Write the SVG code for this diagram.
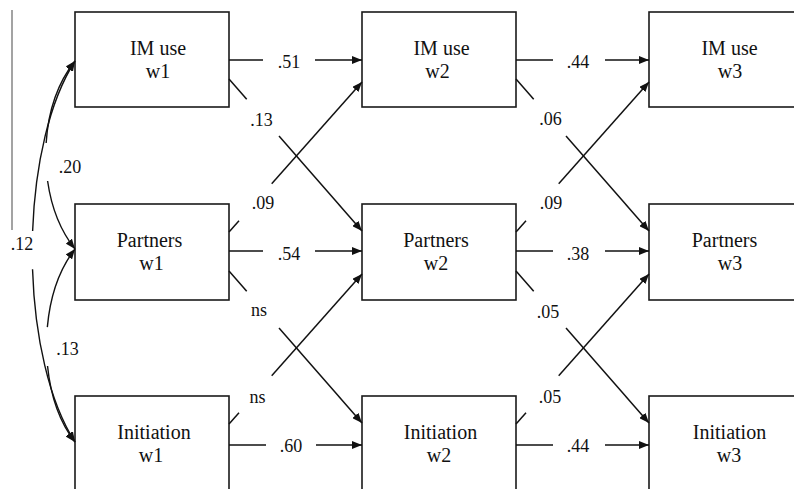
<svg xmlns="http://www.w3.org/2000/svg" width="794" height="489" viewBox="0 0 794 489">
<style>
.box{fill:#fff;stroke:#1a1a1a;stroke-width:1.6}
.t{font-family:"Liberation Serif","Times New Roman",serif;font-size:20px;fill:#111;text-anchor:middle}
.l{font-family:"Liberation Serif","Times New Roman",serif;font-size:18px;fill:#111;text-anchor:middle}
.c{fill:none;stroke:#111;stroke-width:1.5}
.a{marker-end:url(#ah)}
.cov{fill:none;stroke:#111;stroke-width:1.4;marker-start:url(#ahs);marker-end:url(#ah)}
</style>
<defs>
<marker id="ah" viewBox="0 0 10 8" refX="10" refY="4" markerWidth="10" markerHeight="8" markerUnits="userSpaceOnUse" orient="auto"><path d="M0,0 L10,4 L0,8 z" fill="#111"/></marker>
<marker id="ahs" viewBox="0 0 10 8" refX="10" refY="4" markerWidth="10" markerHeight="8" markerUnits="userSpaceOnUse" orient="auto-start-reverse"><path d="M0,0 L10,4 L0,8 z" fill="#111"/></marker>
</defs>
<rect width="794" height="489" fill="#fff"/>
<line x1="12" y1="10" x2="12" y2="230" stroke="#666" stroke-width="1.2"/>

<g id="im1"><rect class="box" x="75" y="12" width="154" height="95"/><text class="t" x="158" y="54.5">IM use</text><text class="t" x="158" y="78">w1</text></g>
<g id="pa1"><rect class="box" x="75" y="204" width="154" height="96"/><text class="t" x="149.5" y="246.5">Partners</text><text class="t" x="151.5" y="270">w1</text></g>
<g id="in1"><rect class="box" x="75" y="396" width="154" height="120"/><text class="t" x="154" y="438.5">Initiation</text><text class="t" x="151" y="462">w1</text></g>
<g id="im2"><rect class="box" x="362" y="12" width="154" height="95"/><text class="t" x="441.5" y="54.5">IM use</text><text class="t" x="437.5" y="78">w2</text></g>
<g id="pa2"><rect class="box" x="362" y="204" width="154" height="96"/><text class="t" x="436" y="246.5">Partners</text><text class="t" x="436" y="270">w2</text></g>
<g id="in2"><rect class="box" x="362" y="396" width="154" height="120"/><text class="t" x="440.5" y="438.5">Initiation</text><text class="t" x="439" y="462">w2</text></g>
<g id="im3"><rect class="box" x="649" y="12" width="160" height="95"/><text class="t" x="729.5" y="54.5">IM use</text><text class="t" x="730" y="78">w3</text></g>
<g id="pa3"><rect class="box" x="649" y="204" width="160" height="96"/><text class="t" x="724.5" y="246.5">Partners</text><text class="t" x="730" y="270">w3</text></g>
<g id="in3"><rect class="box" x="649" y="396" width="160" height="120"/><text class="t" x="729.5" y="438.5">Initiation</text><text class="t" x="729" y="462">w3</text></g>

<g id="connectors">
<line class="c" x1="229" y1="60" x2="263" y2="60"/><line class="c a" x1="315" y1="60" x2="362" y2="60"/>
<line class="c" x1="229" y1="251" x2="263" y2="251"/><line class="c a" x1="315" y1="251" x2="362" y2="251"/>
<line class="c" x1="229" y1="445" x2="266" y2="445"/><line class="c a" x1="316" y1="445" x2="362" y2="445"/>
<line class="c" x1="516" y1="60" x2="553" y2="60"/><line class="c a" x1="605" y1="60" x2="649" y2="60"/>
<line class="c" x1="516" y1="251" x2="553" y2="251"/><line class="c a" x1="605" y1="251" x2="649" y2="251"/>
<line class="c" x1="516" y1="445" x2="553" y2="445"/><line class="c a" x1="605" y1="445" x2="649" y2="445"/>
<line class="c" x1="229" y1="79" x2="246.7" y2="99.2"/><line class="c a" x1="279" y1="136.1" x2="362" y2="231"/>
<line class="c" x1="229" y1="232" x2="239" y2="220.7"/><line class="c a" x1="271.7" y1="183.8" x2="362" y2="82"/>
<line class="c" x1="229" y1="271" x2="246.7" y2="291.2"/><line class="c a" x1="279" y1="328.1" x2="362" y2="423"/>
<line class="c" x1="229" y1="424" x2="239" y2="412.7"/><line class="c a" x1="271.7" y1="375.8" x2="362" y2="274"/>
<line class="c" x1="516" y1="79" x2="533.7" y2="99.2"/><line class="c a" x1="566" y1="136.1" x2="649" y2="231"/>
<line class="c" x1="516" y1="232" x2="526" y2="220.7"/><line class="c a" x1="558.7" y1="183.8" x2="649" y2="82"/>
<line class="c" x1="516" y1="271" x2="533.7" y2="291.2"/><line class="c a" x1="566" y1="328.1" x2="649" y2="423"/>
<line class="c" x1="516" y1="424" x2="526" y2="412.7"/><line class="c a" x1="558.7" y1="375.8" x2="649" y2="274"/>
<path class="cov" d="M75,61 C36,110 36,200 75,249" pathLength="100" stroke-dasharray="44 19 100"/>
<path class="cov" d="M75,249 C37,298 37,393 75,442" pathLength="100" stroke-dasharray="41 19 100"/>
<path class="cov" d="M75,61 C18,150 18,353 75,442" pathLength="100" stroke-dasharray="44.8 9.7 100"/>
</g>

<g id="labels">
<text class="l" x="289" y="67.5">.51</text>
<text class="l" x="289" y="260">.54</text>
<text class="l" x="291" y="452">.60</text>
<text class="l" x="578" y="67.5">.44</text>
<text class="l" x="578" y="260">.38</text>
<text class="l" x="578" y="452">.44</text>
<text class="l" x="261.5" y="126">.13</text>
<text class="l" x="263" y="209">.09</text>
<text class="l" x="259" y="316">ns</text>
<text class="l" x="257.5" y="403">ns</text>
<text class="l" x="550.5" y="125">.06</text>
<text class="l" x="551" y="209">.09</text>
<text class="l" x="548" y="318">.05</text>
<text class="l" x="550" y="403">.05</text>
<text class="l" x="70" y="173">.20</text>
<text class="l" x="67.5" y="355">.13</text>
<text class="l" x="22" y="250">.12</text>
</g>
</svg>
